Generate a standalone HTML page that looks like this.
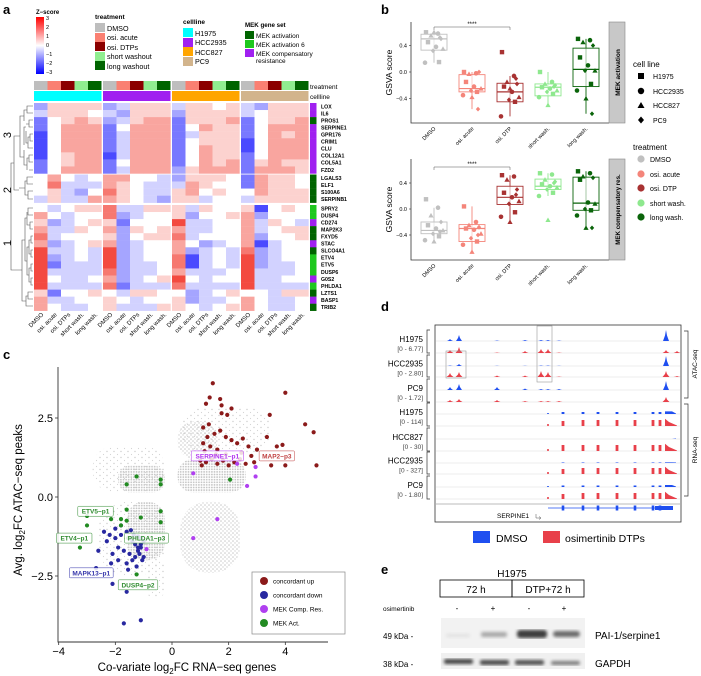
<!DOCTYPE html>
<html><head><meta charset="utf-8">
<style>
html,body{margin:0;padding:0;background:#fff;}
svg{display:block;font-family:"Liberation Sans",sans-serif;}
</style></head>
<body>
<svg id="s" width="701" height="676" viewBox="0 0 701 676" xmlns="http://www.w3.org/2000/svg">
<rect width="701" height="676" fill="#fff"/>
<defs>
<pattern id="dense" width="2.6" height="2.6" patternUnits="userSpaceOnUse"><circle cx="1.3" cy="1.3" r="0.9" fill="#c4c4c4"/></pattern>
<pattern id="mid" width="4" height="4" patternUnits="userSpaceOnUse"><circle cx="1" cy="1" r="0.8" fill="#c8c8c8"/><circle cx="3" cy="3" r="0.7" fill="#cfcfcf"/></pattern>
<pattern id="sparse" width="7" height="6" patternUnits="userSpaceOnUse"><circle cx="2" cy="1.5" r="0.7" fill="#cccccc"/><circle cx="5.5" cy="4.5" r="0.6" fill="#d4d4d4"/></pattern>
</defs>
<text x="3" y="14" font-size="13" font-weight="bold">a</text>
<text x="381" y="14" font-size="13" font-weight="bold">b</text>
<text x="3" y="359" font-size="13" font-weight="bold">c</text>
<text x="381" y="311" font-size="13" font-weight="bold">d</text>
<text x="381" y="574" font-size="13" font-weight="bold">e</text>

<g font-size="5.5">
<text x="36" y="14" font-weight="bold" font-size="6">Z−score</text>
<linearGradient id="zg" x1="0" y1="0" x2="0" y2="1">
<stop offset="0" stop-color="#ff0000"/><stop offset="0.5" stop-color="#ffffff"/><stop offset="1" stop-color="#0000ff"/></linearGradient>
<rect x="36" y="17" width="8" height="57" fill="url(#zg)"/>
<text x="46" y="20">3</text><text x="46" y="29">2</text><text x="46" y="38">1</text><text x="46" y="47">0</text><text x="46" y="56">−1</text><text x="46" y="65">−2</text><text x="46" y="74">−3</text>
</g>
<g font-size="7.2">
<text x="95" y="19" font-weight="bold" font-size="6.5">treatment</text>
<rect x="95" y="23" width="10" height="9" fill="#bebebe"/><text x="107" y="31">DMSO</text>
<rect x="95" y="33" width="10" height="9" fill="#fa8072"/><text x="107" y="40">osi. acute</text>
<rect x="95" y="42" width="10" height="9" fill="#8b0000"/><text x="107" y="50">osi. DTPs</text>
<rect x="95" y="52" width="10" height="9" fill="#90ee90"/><text x="107" y="59">short washout</text>
<rect x="95" y="61" width="10" height="9" fill="#006400"/><text x="107" y="69">long washout</text>
</g>
<g font-size="7.2">
<text x="183" y="24" font-weight="bold" font-size="6.5">cellline</text>
<rect x="183" y="28" width="10" height="9" fill="#00ffff"/><text x="195" y="36">H1975</text>
<rect x="183" y="38" width="10" height="9" fill="#a020f0"/><text x="195" y="45">HCC2935</text>
<rect x="183" y="47" width="10" height="9" fill="#ffa500"/><text x="195" y="55">HCC827</text>
<rect x="183" y="57" width="10" height="9" fill="#d2b48c"/><text x="195" y="64">PC9</text>
</g>
<g font-size="6.5">
<text x="245" y="27" font-weight="bold" font-size="6.2">MEK gene set</text>
<rect x="245" y="31" width="9" height="8" fill="#006400"/><text x="256" y="38">MEK activation</text>
<rect x="245" y="40" width="9" height="8" fill="#1ec81e"/><text x="256" y="47">MEK activation 6</text>
<rect x="245" y="49" width="9" height="8" fill="#a020f0"/><text x="256" y="56">MEK compensatory</text><text x="256" y="63">resistance</text>
</g>
<text x="310" y="89" font-size="6.5">treatment</text>
<text x="310" y="99" font-size="6.5">cellline</text>
<g id="heat"></g>
<g id="dendro" stroke="#555" stroke-width="0.6" fill="none">
<path d="M33,106 H27 V113 H33 M27,110 H24 V121 M33,120 H29 V127 H33 M29,124 H26 M33,134 H30 V141 H33 M30,137 H28 V148 H33 M28,143 H26 V131 M33,155 H29 V162 H33 M33,170 H29 M29,158 H27 V170 M26,127 H24 V145 M27,165 H24 V150 M24,116 H20 V157 H24"/>
<path d="M33,177 H27 V184 H33 M33,191 H28 V199 H33 M27,181 H25 V195 H28 M25,188 H19"/>
<path d="M33,208 H28 V215 H33 M33,222 H30 V229 H33 M30,225 H27 V212 M33,236 H31 V243 H33 M33,250 H31 V257 H33 M31,240 H29 V254 H31 M33,264 H31 V271 H33 M33,278 H31 V285 H33 M31,268 H29 V282 H31 M29,247 H27 V275 H29 M27,218 H25 V261 H27 M33,292 H28 V299 H33 M33,306 H28 M28,296 H26 V306 H28 M25,240 H22 V301 H26 M22,270 H16"/>
<path d="M20,136 H14 V190 H19 M14,163 H11 V270 H16"/>
</g>
<text transform="translate(11,135) rotate(-90)" font-size="11" text-anchor="middle">3</text>
<text transform="translate(11,190) rotate(-90)" font-size="11" text-anchor="middle">2</text>
<text transform="translate(11,243) rotate(-90)" font-size="11" text-anchor="middle">1</text>

<g id="boxb"></g>
<g font-size="7">
<text x="633" y="67" font-size="8">cell line</text>
<rect x="638" y="73" width="6" height="6" fill="#000"/><text x="653" y="79">H1975</text>
<circle cx="641" cy="91" r="3.2" fill="#000"/><text x="653" y="94">HCC2935</text>
<path d="M637.5,108 L641,102 L644.5,108Z" fill="#000"/><text x="653" y="108">HCC827</text>
<path d="M641,116.5 L644,120 L641,123.5 L638,120Z" fill="#000"/><text x="653" y="123">PC9</text>
</g>
<g font-size="7">
<text x="633" y="150" font-size="8">treatment</text>
<circle cx="641" cy="159" r="3.6" fill="#c0c0c0"/><text x="650" y="162">DMSO</text>
<circle cx="641" cy="174" r="3.6" fill="#f4857a"/><text x="650" y="177">osi. acute</text>
<circle cx="641" cy="188" r="3.6" fill="#a83232"/><text x="650" y="191">osi. DTP</text>
<circle cx="641" cy="203" r="3.6" fill="#8ee88e"/><text x="650" y="206">short wash.</text>
<circle cx="641" cy="217" r="3.6" fill="#0a640a"/><text x="650" y="220">long wash.</text>
</g>

<g id="scat"></g>
<g id="tracks"></g>

<g>
<text x="512" y="577" font-size="10" text-anchor="middle">H1975</text>
<rect x="440" y="580" width="72" height="17" fill="none" stroke="#000" stroke-width="0.8"/>
<rect x="512" y="580" width="72" height="17" fill="none" stroke="#000" stroke-width="0.8"/>
<text x="476" y="593" font-size="10" text-anchor="middle">72 h</text>
<text x="548" y="593" font-size="10" text-anchor="middle">DTP+72 h</text>
<text x="383" y="611" font-size="6.5">osimertinib</text>
<text x="457" y="611" font-size="8" text-anchor="middle">-</text>
<text x="493" y="611" font-size="8" text-anchor="middle">+</text>
<text x="529" y="611" font-size="8" text-anchor="middle">-</text>
<text x="564" y="611" font-size="8" text-anchor="middle">+</text>
<rect x="441" y="618" width="144" height="30" fill="#f2f2f2"/>
<filter id="bl"><feGaussianBlur stdDeviation="1.6"/></filter>
<g filter="url(#bl)">
<rect x="446" y="634" width="24" height="3" rx="1.5" fill="#e0e0e0"/>
<rect x="481" y="632" width="26" height="5" rx="2" fill="#a8a8a8"/>
<rect x="517" y="630" width="30" height="8" rx="3" fill="#3c3c3c"/>
<rect x="553" y="631" width="27" height="6" rx="3" fill="#6a6a6a"/>
</g>
<rect x="441" y="653" width="144" height="16" fill="#f0f0f0"/>
<g filter="url(#bl)">
<rect x="444" y="659" width="29" height="5" rx="2" fill="#444"/>
<rect x="480" y="660" width="29" height="5" rx="2" fill="#4a4a4a"/>
<rect x="515" y="660" width="29" height="5" rx="2" fill="#505050"/>
<rect x="551" y="661" width="29" height="4" rx="2" fill="#7a7a7a"/>
</g>
<text x="383" y="639" font-size="8">49 kDa -</text>
<text x="383" y="667" font-size="8">38 kDa -</text>
<text x="595" y="639" font-size="10">PAI-1/serpine1</text>
<text x="595" y="667" font-size="10">GAPDH</text>
</g>
</svg>

<script>
var NS='http://www.w3.org/2000/svg';
function mk(tag,attrs,parent){var e=document.createElementNS(NS,tag);for(var k in attrs)e.setAttribute(k,attrs[k]);parent.appendChild(e);return e;}

/* ---------------- Panel a heatmap data ---------------- */
var genes=['LOX','IL6','PROS1','SERPINE1','GPR176','CRIM1','CLU','COL12A1','COL5A1','FZD2','LGALS3','ELF1','S100A6','SERPINB1','SPRY2','DUSP4','CD274','MAP2K3','FXYD5','STAC','SLCO4A1','ETV4','ETV5','DUSP6','G0S2','PHLDA1','LZTS1','BASP1','TRIB2'];
var geneSet=['p','p','d','p','p','p','p','p','p','p','d','d','d','d','g','g','p','d','d','p','d','g','g','g','p','g','d','p','d'];
var geneCluster=[3,3,3,3,3,3,3,3,3,3,2,2,2,2,1,1,1,1,1,1,1,1,1,1,1,1,1,1,1];
var treatments=['DMSO','osi. acute','osi. DTPs','short wash.','long wash.'];
var cellLines=['H1975','HCC2935','HCC827','PC9'];
var zValues=[
[-1,0.5,0.5,0.5,0.5, -1,-0.5,0.5,0.5,0.5, -0.5,0.5,0.5,0,0.5, -0.5,-1,0.5,0.5,0.5],
[-0.5,0.5,0.5,0.5,0, -0.5,-1,0.5,0.5,0.5, -1,0.5,0.5,0.5,0.5, -0.5,0,0.5,0.5,0.5],
[-1.5,0,0.5,1,0.5, -1,-0.5,0.5,1,1, -1.5,0.5,0.5,0.5,1, -1.5,0,0.5,0.5,1],
[-1.5,0,1,1,1, -1.5,0,1,1,1, -1.5,0,1,0.5,0.5, -1.5,0,1,1,1],
[-2,0,1,1,1, -1.5,-0.5,1,1,1, -1.5,-0.5,0.5,0.5,0.5, -1.5,0,1,0.5,1],
[-2,0,1,1,1, -1.5,-0.5,1,1,1, -1.5,0,0.5,0.5,0.5, -2,0,1,1,1],
[-2,0,1,1,1, -1.5,-0.5,1,1,1, -1.5,0,1,0.5,0.5, -2,0,1,1,1],
[-2,0,0.5,1,1, -2,-0.5,1,1,1, -1.5,0,1,0.5,0.5, -1.5,0,1,1,1],
[-1.5,0,0.5,1,1, -1.5,0,1,1,1, -1.5,0,1,0.5,1, -1.5,0.5,1,0.5,0.5],
[-1.5,0,1,1,1, -1.5,-0.5,1,1,1, -1,0.5,1,1,1, -1.5,1,1,1,0.5],
[0,1,0,-0.5,0, 1,1,0,0,-0.5, -1,0.5,0.5,0.5,0, -1.5,1,0.5,0.5,0],
[0,1.5,-0.5,-0.5,-0.5, 1,0.5,0,-0.5,-0.5, -0.5,1,0.5,0,0, -1.5,1,0.5,0.5,0],
[0,0.5,-0.5,-1,0, 1.5,0.5,0,-0.5,-0.5, 0.5,1,0,0.5,0, 0,1,0.5,0.5,0.5],
[-0.5,0.5,-0.5,-0.5,1, 1,0.5,0,-0.5,-1, 0.5,0.5,-0.5,0,0, -0.5,0.5,0.5,0.5,0.5],
[0,-0.5,0,0.5,0.5, 1.5,-0.5,-0.5,0.5,0.5, 0.5,-0.5,0.5,0,0, 0.5,-2,0,0.5,0],
[1,0,-0.5,0,0, 1.5,-1,-0.5,0,0, 0.5,-1,0,0,0.5, 1,-1,0,0,0],
[0.5,-1,-0.5,0,0.5, 0.5,-1.5,0,0,0, 2,-0.5,-0.5,0,0, 1,-0.5,0.5,0,-0.5],
[1,-0.5,-0.5,0.5,0, 1,-1,0.5,0,0.5, 1,-0.5,-0.5,0,0, 1,-0.5,0,0.5,0.5],
[1.5,-0.5,0,0,0, 0.5,-1,0,0.5,0.5, 1.5,-0.5,0,0,0, 1,-1,0,0,0.5],
[1,-1,-0.5,0,0.5, 1,-1,-0.5,0,0, 1,0,-1,-0.5,0, 1,-2,-0.5,0,0],
[2,-0.5,-0.5,0,-0.5, 2,-1,-0.5,0,0, 1,-1,-0.5,0,-0.5, 1.5,-1,-0.5,0,0],
[2,-1,-0.5,0,-0.5, 2,-1,-0.5,0,0, 1.5,-2,-0.5,0,-0.5, 2,-1,-0.5,0,0],
[2,-1.5,-0.5,-0.5,-0.5, 2,-1,-0.5,-0.5,0, 1.5,-2,-0.5,0,-0.5, 2,-1,-0.5,-0.5,0],
[2,-0.5,-0.5,-0.5,-0.5, 1.5,-1,-0.5,-0.5,0, 1,-0.5,-0.5,-0.5,0, 2,-0.5,-0.5,-0.5,0],
[2,0,-0.5,-0.5,0, 1,-1,-0.5,0,0.5, 2,0,-0.5,0,0, 2,-0.5,-0.5,0,0],
[2,-0.5,-0.5,-0.5,-0.5, 1.5,-1.5,-0.5,-0.5,-0.5, 1.5,-0.5,-0.5,-0.5,-0.5, 2,-0.5,-0.5,-0.5,-0.5],
[0.5,-1.5,0,0,0.5, 0,-0.5,0.5,0.5,0, 0,-1,-0.5,0,0.5, 0,0,-0.5,0.5,0.5],
[1,-0.5,-0.5,0,0, 0.5,0,-0.5,0,0, 0.5,-1,-0.5,-0.5,0, 1,0,-0.5,-0.5,0],
[1,0,-0.5,-0.5,0, 0.5,-0.5,-0.5,-0.5,0.5, 0.5,0,-0.5,0,0.5, 1,0,-0.5,-0.5,0]
];

var tColors=['#bebebe','#fa8072','#8b0000','#90ee90','#006400'];
var cColors=['#00ffff','#a020f0','#ffa500','#d2b48c'];
var setColors={p:'#a020f0',d:'#006400',g:'#1ec81e'};
function zColor(v){
 if(v>=0){var t=Math.min(v/2.4,1);return 'rgb('+Math.round(255-t*15)+','+Math.round(255*(1-t*0.85))+','+Math.round(255*(1-t*0.9))+')';}
 var t2=Math.min(-v/2.4,1);return 'rgb('+Math.round(255*(1-t2*0.85))+','+Math.round(255*(1-t2*0.85))+',255)';}
(function(){
 var g=document.getElementById('heat');
 var blockX=function(b){return 34+b*69;};
 var bw=67.5,gw=bw/5;
 var clusterTop={3:103,2:174.5,1:205};
 var rowH=7.05;
 function rowY(i){var c=geneCluster[i];var first=geneCluster.indexOf(c);return clusterTop[c]+(i-first)*rowH;}
 for(var b=0;b<cellLines.length;b++){
  var cb=mk('rect',{x:blockX(b),y:91,width:bw,height:10,fill:cColors[b]},g);
  
  
  for(var t=0;t<treatments.length;t++){
   var tb=mk('rect',{x:blockX(b)+t*gw,y:81,width:gw,height:9,fill:tColors[t]},g);
   
   
   var cx=blockX(b)+t*gw+gw/2;
   var lb=mk('text',{transform:'translate('+(cx+3)+',315) rotate(-45)','font-size':6,'text-anchor':'end'},g);
   lb.textContent=treatments[t];
   
   
   for(var i=0;i<genes.length;i++){
    var v=zValues[i][b*5+t];
    var cell=mk('rect',{x:blockX(b)+t*gw,y:rowY(i),width:gw+0.2,height:rowH+0.2,fill:zColor(v)},g);
    
    
   }
  }
 }
 for(var i=0;i<genes.length;i++){
  var sc=mk('rect',{x:310,y:rowY(i),width:6.5,height:rowH+0.2,fill:setColors[geneSet[i]]},g);
  
  
  var gl=mk('text',{x:321,y:rowY(i)+5.3,'font-size':5.2,'font-weight':'bold'},g);
  gl.textContent=genes[i];
  
  
 }
})();

/* ---------------- Panel b box plots ---------------- */
var bCategories=['DMSO','osi. acute','osi. DTP','short wash.','long wash.'];
var bColors=['#c0c0c0','#f4857a','#a83232','#8ee88e','#0a640a'];
var actQ1=[0.33,-0.30,-0.45,-0.36,-0.22];
var actMed=[0.50,-0.25,-0.30,-0.23,0.04];
var actQ3=[0.57,-0.04,-0.17,-0.18,0.36];
var actLo=[0.14,-0.56,-0.67,-0.50,-0.63];
var actHi=[0.60,0.00,-0.06,0.00,0.50];
var actPoints=[
[0.60,0.58,0.55,0.50,0.45,0.38,0.35,0.32,0.15,0.14,0.60,0.52],
[0.00,-0.02,-0.03,0.00,-0.15,-0.22,-0.25,-0.28,-0.30,-0.35,-0.38,-0.56],
[0.30,-0.06,-0.15,-0.18,-0.22,-0.30,-0.38,-0.42,-0.45,-0.67,-0.25,-0.10],
[0.00,-0.15,-0.18,-0.20,-0.23,-0.25,-0.28,-0.30,-0.33,-0.38,-0.50,-0.22],
[0.50,0.48,0.45,0.40,0.22,0.10,0.02,0.02,-0.18,-0.28,-0.40,-0.63]];
var resQ1=[-0.38,-0.50,0.07,0.30,-0.02];
var resMed=[-0.33,-0.30,0.18,0.35,0.09];
var resQ3=[-0.20,-0.24,0.35,0.46,0.49];
var resLo=[-0.50,-0.66,-0.20,0.20,-0.29];
var resHi=[0.02,0.04,0.52,0.55,0.58];
var resPoints=[
[0.15,0.02,-0.10,-0.20,-0.25,-0.30,-0.33,-0.38,-0.42,-0.48,-0.50,-0.35],
[0.04,-0.20,-0.25,-0.28,-0.30,-0.32,-0.38,-0.45,-0.50,-0.55,-0.66,-0.40],
[0.52,0.50,0.45,0.30,0.25,0.18,0.12,0.08,-0.05,-0.12,-0.20,0.22],
[0.55,0.53,0.45,0.42,0.38,0.35,0.33,0.30,0.25,0.20,-0.17,0.40],
[0.58,0.55,0.50,0.48,0.45,0.10,0.08,0.00,-0.02,-0.10,-0.29,-0.29]];
var pointShapes=['sq','c','t','d','sq','c','t','d','sq','c','t','d'];
var jitter=[-8,4,-3,7,-6,2,9,-1,5,-9,0,6];
var bTicks=[-0.4,0.0,0.4];
var bTickLabels=['−0.4','0.0','0.4'];
(function(){
 var g=document.getElementById('boxb');
 var x0=411,x1=609;
 function bx(i){return 434+i*38;}
 function drawPanel(yTop,yBot,sy,q1,med,q3,lo,hi,pts,strip,ystar){
  var ax=mk('path',{d:'M'+x0+','+yTop+' V'+yBot+' H'+x1,stroke:'#333','stroke-width':0.8,fill:'none'},g);
  
  
  var st=mk('rect',{x:x1,y:yTop,width:16,height:yBot-yTop,fill:'#c8c8c8',stroke:'#888','stroke-width':0.6},g);
  
  
  var stt=mk('text',{transform:'translate('+(x1+11)+','+((yTop+yBot)/2)+') rotate(-90)','font-size':strip.length>16?6.2:6.5,'font-weight':'bold','text-anchor':'middle'},g);
  stt.textContent=strip;
  
  
  for(var k=0;k<bTicks.length;k++){
   var tl=mk('text',{x:x0-4,y:sy(bTicks[k])+2,'font-size':5.5,'text-anchor':'end'},g);
   tl.textContent=bTickLabels[k];
   
   
   var tk=mk('line',{x1:x0-2,x2:x0,y1:sy(bTicks[k]),y2:sy(bTicks[k]),stroke:'#333','stroke-width':0.6},g);
   
   
  }
  var yl=mk('text',{transform:'translate(392,'+((yTop+yBot)/2)+') rotate(-90)','font-size':8.5,'text-anchor':'middle'},g);
  yl.textContent='GSVA score';
  
  
  var br=mk('path',{d:'M'+bx(0)+','+(ystar+3)+' V'+ystar+' H'+bx(2)+' V'+(ystar+3),stroke:'#555','stroke-width':0.5,fill:'none'},g);
  
  
  var sg=mk('text',{x:(bx(0)+bx(2))/2,y:ystar-1,'font-size':6,'text-anchor':'middle'},g);
  sg.textContent='****';
  
  
  for(var i=0;i<bCategories.length;i++){
   var c=bColors[i],x=bx(i);
   var w=mk('line',{x1:x,x2:x,y1:sy(lo[i]),y2:sy(hi[i]),stroke:c,'stroke-width':0.9},g);
   
   
   var bxr=mk('rect',{x:x-13,y:sy(q3[i]),width:26,height:sy(q1[i])-sy(q3[i]),fill:'#fff','fill-opacity':0.6,stroke:c,'stroke-width':0.9},g);
   
   
   var md=mk('line',{x1:x-13,x2:x+13,y1:sy(med[i]),y2:sy(med[i]),stroke:c,'stroke-width':1.2},g);
   
   
   for(var j=0;j<pts[i].length;j++){
    var px=x+jitter[j],py=sy(pts[i][j]),s=pointShapes[j],p;
    if(s==='sq')p=mk('rect',{x:px-2.2,y:py-2.2,width:4.4,height:4.4,fill:c},g);
    else if(s==='c')p=mk('circle',{cx:px,cy:py,r:2.3,fill:c},g);
    else if(s==='t')p=mk('path',{d:'M'+(px-2.6)+','+(py+2)+' L'+px+','+(py-2.6)+' L'+(px+2.6)+','+(py+2)+'Z',fill:c},g);
    else p=mk('path',{d:'M'+px+','+(py-2.4)+' L'+(px+2.2)+','+py+' L'+px+','+(py+2.4)+' L'+(px-2.2)+','+py+'Z',fill:c},g);
    
    
   }
   var xl=mk('text',{transform:'translate('+(x+2)+','+(yBot+6)+') rotate(-45)','font-size':5.5,'text-anchor':'end'},g);
   xl.textContent=bCategories[i];
   
   
  }
 }
 drawPanel(22,123,function(v){return 72-v*66.25;},actQ1,actMed,actQ3,actLo,actHi,actPoints,'MEK activation',27);
 drawPanel(159,260,function(v){return 209-v*65;},resQ1,resMed,resQ3,resLo,resHi,resPoints,'MEK compensatory res.',167);
})();

/* ---------------- Panel c scatter ---------------- */
var xTicks=[-4,-2,0,2,4];
var yTicks=[-2.5,0.0,2.5];
var yTickLabels=['−2.5','0.0','2.5'];
var xTickLabels=['−4','−2','0','2','4'];
var upX=[1.44,4.0,1.33,1.7,1.2,1.75,2.1,1.75,1.95,3.45,1.1,1.3,1.5,1.7,1.9,2.1,2.3,2.5,2.7,1.0,1.2,1.4,1.6,1.8,2.0,2.2,2.4,2.6,2.8,1.15,1.35,1.55,1.05,1.25,2.9,3.9,5.0,5.1,4.7,4.0,3.5,3.35,3.0,3.7,2.45,1.6,1.9,1.1];
var upY=[3.6,3.3,3.15,3.1,2.95,2.9,2.8,2.65,2.6,2.6,2.2,2.3,2.0,2.1,1.9,1.8,1.7,1.85,1.6,1.15,1.1,1.2,1.05,1.15,1.0,1.1,1.2,1.05,1.3,1.45,1.6,1.35,1.0,1.9,1.1,1.65,2.05,1.0,2.3,1.0,1.0,1.9,1.5,1.6,1.4,1.5,1.35,1.7];
var downX=[-2.6,-2.68,-2.1,-1.6,-1.7,-1.1,-2.4,-2.2,-2.0,-1.8,-1.6,-1.5,-1.4,-1.3,-1.2,-1.1,-1.0,-1.9,-1.7,-1.5,-1.3,-1.2,-1.1,-2.3,-2.1,-1.9,-1.6,-1.4,-1.25,-1.15,-1.05,-2.0,-1.8,-1.45,-1.35,-1.2,-1.1,-1.0,-2.15,-1.55];
var downY=[-1.7,-2.25,-2.75,-3.0,-4.0,-3.9,-1.1,-1.2,-1.3,-1.2,-1.1,-1.3,-1.4,-1.5,-1.6,-1.5,-1.4,-1.6,-1.7,-1.8,-1.9,-1.7,-1.6,-1.4,-1.8,-2.0,-2.1,-2.0,-2.2,-1.8,-2.0,-1.0,-0.9,-1.05,-1.2,-1.25,-1.3,-1.9,-2.1,-2.3];
var compX=[0.75,2.95,2.95,2.65,1.6,0.75,-0.9,2.3];
var compY=[0.75,0.95,0.65,0.35,-0.7,-1.3,-1.65,1.05];
var actX=[-1.6,-1.25,-0.4,-0.4,2.05,-3.0,-3.0,-3.25,-2.15,-1.6,-1.6,-1.8,-1.8,-1.1,-0.4,-0.4,-1.25,-1.55];
var actY=[0.4,0.65,0.55,0.4,0.55,-0.6,-0.9,-1.6,-0.7,-0.4,-0.75,-0.7,-0.9,-0.65,-0.45,-0.8,-2.45,-1.3];
/* grey background peak clouds: [xmin,xmax,ymin,ymax,density] */
var cloudX0=[0.2,-1.9,-1.6,0.3,0.2,-2.8,-0.9,-2.6,0.3];
var cloudX1=[2.6,-0.25,-0.25,2.4,1.6,-0.25,-0.25,-0.25,3.5];
var cloudY0=[0.15,0.15,-2.0,-2.4,1.2,0.15,-3.2,-2.5,1.4];
var cloudY1=[1.2,1.0,-0.15,-0.15,2.4,1.6,-2.0,-0.15,2.8];
var cloudDensity=['dense','dense','dense','mid','mid','sparse','sparse','sparse','sparse'];
var callouts=[['ETV5−p1',-2.7,-0.45,'#2e8b2e'],['ETV4−p1',-3.45,-1.3,'#2e8b2e'],['PHLDA1−p3',-0.9,-1.3,'#2e8b2e'],['MAPK13−p1',-2.85,-2.4,'#3333aa'],['DUSP4−p2',-1.2,-2.78,'#2e8b2e'],['SERPINE1−p1',1.6,1.3,'#b030f0'],['MAP2−p3',3.7,1.3,'#c04040']];
(function(){
 var g=document.getElementById('scat');
 function sx(v){return 172+v*28.33;}
 function sy(v){return 497-v*31.6;}
 for(var i=0;i<cloudX0.length;i++){
  var x=sx(cloudX0[i]),y=sy(cloudY1[i]),w=sx(cloudX1[i])-x,h=sy(cloudY0[i])-y;
  var e=mk('rect',{x:x,y:y,width:w,height:h,rx:Math.min(w,h)*0.45,fill:'url(#'+cloudDensity[i]+')'},g);
  
  
 }
 var ax=mk('path',{d:'M58,367 V642 H328',stroke:'#333','stroke-width':0.9,fill:'none'},g);
 
 
 for(var k=0;k<xTicks.length;k++){
  var t=mk('line',{x1:sx(xTicks[k]),x2:sx(xTicks[k]),y1:642,y2:645,stroke:'#333','stroke-width':0.8},g);
  
  
  var tl=mk('text',{x:sx(xTicks[k]),y:655,'font-size':11,'text-anchor':'middle'},g);
  tl.textContent=xTickLabels[k];
  
  
 }
 for(var k=0;k<yTicks.length;k++){
  var t2=mk('line',{x1:55,x2:58,y1:sy(yTicks[k]),y2:sy(yTicks[k]),stroke:'#333','stroke-width':0.8},g);
  
  
  var tl2=mk('text',{x:53,y:sy(yTicks[k])+4,'font-size':11,'text-anchor':'end'},g);
  tl2.textContent=yTickLabels[k];
  
  
 }
 function pts(X,Y,col,name){for(var i=0;i<X.length;i++){var c=mk('circle',{cx:sx(X[i]),cy:sy(Y[i]),r:2.1,fill:col},g);
  
  }}
 pts(upX,upY,'#8b1a1a','concordant-up-point');
 pts(downX,downY,'#2828a0','concordant-down-point');
 pts(compX,compY,'#b040f0','mek-comp-res-point');
 pts(actX,actY,'#228b22','mek-act-point');
 for(var i=0;i<callouts.length;i++){
  var c=callouts[i],w=c[0].length*4.2+6;
  var r=mk('rect',{x:sx(c[1])-w/2,y:sy(c[2])-5,width:w,height:10,fill:'#fff','fill-opacity':0.85,stroke:c[3],'stroke-width':0.5,rx:1},g);
  
  
  var tx=mk('text',{x:sx(c[1]),y:sy(c[2])+2.5,'font-size':6.5,'font-weight':'bold','text-anchor':'middle',fill:c[3]},g);
  tx.textContent=c[0];
  
  
 }
 var xt=mk('text',{x:187,y:671,'font-size':11.5,'text-anchor':'middle'},g);
 
 
 var a1=mk('tspan',{},xt);a1.textContent='Co-variate log';
 var a2=mk('tspan',{'font-size':8,dy:3},xt);a2.textContent='2';
 var a3=mk('tspan',{dy:-3},xt);a3.textContent='FC RNA−seq genes';
 var yt=mk('text',{transform:'translate(22,500) rotate(-90)','font-size':11.5,'text-anchor':'middle'},g);
 
 
 var b1=mk('tspan',{},yt);b1.textContent='Avg. log';
 var b2=mk('tspan',{'font-size':8,dy:3},yt);b2.textContent='2';
 var b3=mk('tspan',{dy:-3},yt);b3.textContent='FC ATAC−seq peaks';
 var lg=mk('g',{},g);
 
 
 mk('rect',{x:252,y:572,width:93,height:62,fill:'#fff',stroke:'#888','stroke-width':0.7},lg);
 var lt=['concordant up','concordant down','MEK Comp. Res.','MEK Act.'],lc=['#8b1a1a','#2828a0','#b040f0','#228b22'];
 for(var i=0;i<4;i++){mk('circle',{cx:264,cy:581+i*14,r:4,fill:lc[i]},lg);
  var tt=mk('text',{x:273,y:583.5+i*14,'font-size':6.5},lg);tt.textContent=lt[i];}
})();

/* ---------------- Panel d tracks ---------------- */
var trackLabels=['H1975','HCC2935','PC9','H1975','HCC827','HCC2935','PC9'];
var trackRanges=['[0 - 6.77]','[0 - 2.80]','[0 - 1.72]','[0 - 114]','[0 - 30]','[0 - 327]','[0 - 1.80]'];
var atacPeakX=[450,459,497,525,541,548,559,666,677];
var atacBlueH=[[2,6,0.5,1,1,1,0.5,11,0],[0.5,2,0.3,0.3,0.5,0.5,0.3,10,0],[3,6,3,1.5,1,1,1,9,0]];
var atacRedH=[[3,6,0.5,2,4,4,0.5,3,2],[4,5,1.5,1.5,6,5,0.5,6,1],[2,3,2,1,1,1,1,5,0]];
var exonX=[548,563,583,598,617,635,653,660];
var rnaBlueH=[[1,2,2,2,2,2,2,2],[0,0,0,0,0,0,0,0],[0,0.5,0.5,0.5,0.5,0.5,0.5,0.5],[1,1.5,1.5,1.5,1.5,1.5,1.5,1.5]];
var rnaRedH=[[2,5,6,6,6,6,6,6],[2,6,6,6,6,6,6,6],[2,5,6,6,6,6,6,6],[2,5,6,6,6,6,6,6]];
(function(){
 var g=document.getElementById('tracks');
 var bx=mk('rect',{x:435,y:325,width:246,height:197,fill:'none',stroke:'#333','stroke-width':0.8},g);
 
 
 var base=[[339,351],[364,375],[388,400],[412,424],[437,449],[461,472],[485,497]];
 function peak(x,y,h,w,c){return mk('path',{d:'M'+(x-w)+','+y+' L'+(x-1)+','+(y-h*0.5)+' L'+x+','+(y-h)+' L'+(x+1)+','+(y-h*0.5)+' L'+(x+w)+','+y+'Z',fill:c},g);}
 for(var t=0;t<7;t++){
  var lyb=base[t][0]+2,lyr=base[t][1]+2;
  var l1=mk('line',{x1:436,x2:680,y1:lyb,y2:lyb,stroke:'#ddd','stroke-width':0.6},g);
  
  
  var l2=mk('line',{x1:436,x2:680,y1:lyr,y2:lyr,stroke:'#ddd','stroke-width':0.6},g);
  
  
  var cy=(base[t][0]+base[t][1])/2-2;
  var tl=mk('text',{x:423,y:cy-1,'font-size':8,'text-anchor':'end'},g);
  tl.textContent=trackLabels[t];
  
  
  var tr=mk('text',{x:423,y:cy+8,'font-size':6.5,'text-anchor':'end',fill:'#444'},g);
  tr.textContent=trackRanges[t];
  
  
  var bk=mk('path',{d:'M430,'+(base[t][0]-9)+' H427 V'+(base[t][1]+2)+' H430',stroke:'#333','stroke-width':0.7,fill:'none'},g);
  
  
  if(t<3){
   for(var i=0;i<atacPeakX.length;i++){
    var pb=peak(atacPeakX[i],lyb,atacBlueH[t][i],3,'#1f4ff0');
    
    
    var pr=peak(atacPeakX[i],lyr,atacRedH[t][i],3.5,'#e8404a');
    
    
   }
  } else {
   var r=t-3;
   for(var i=0;i<exonX.length;i++){
    var w=i==0?0.8:1.4;
    var eb=mk('rect',{x:exonX[i]-w,y:lyb-rnaBlueH[r][i],width:2*w,height:rnaBlueH[r][i],fill:'#1f4ff0'},g);
    
    
    var er=mk('rect',{x:exonX[i]-w,y:lyr-rnaRedH[r][i],width:2*w,height:rnaRedH[r][i],fill:'#e8404a'},g);
    
    
   }
   var tb=mk('path',{d:'M665,'+lyb+' V'+(lyb-rnaBlueH[r][7]*1.3)+' H672 L676,'+(lyb-0.5)+' V'+lyb+'Z',fill:'#1f4ff0'},g);
   
   
   var tr2=mk('path',{d:'M665,'+lyr+' V'+(lyr-rnaRedH[r][7]*1.2)+' L669,'+(lyr-4)+' L677,'+(lyr-0.5)+' V'+lyr+'Z',fill:'#e8404a'},g);
   
   
  }
 }
 var hb1=mk('rect',{x:446,y:351,width:20,height:27,fill:'none',stroke:'#999','stroke-width':0.6},g);
 
 
 var hb2=mk('rect',{x:537,y:326,width:15,height:56,fill:'none',stroke:'#999','stroke-width':0.6},g);
 
 
 var rb1=mk('path',{d:'M684,331 H688 V398 H684',stroke:'#333','stroke-width':0.7,fill:'none'},g);
 
 
 var rb2=mk('path',{d:'M684,404 H688 V496 H684',stroke:'#333','stroke-width':0.7,fill:'none'},g);
 
 
 var at=mk('text',{transform:'translate(697,364) rotate(-90)','font-size':6.5,'text-anchor':'middle'},g);
 at.textContent='ATAC-seq';
 
 
 var rt=mk('text',{transform:'translate(697,450) rotate(-90)','font-size':6.5,'text-anchor':'middle'},g);
 rt.textContent='RNA-seq';
 
 
 var sep=mk('rect',{x:436,y:503,width:244,height:2,fill:'#ddd'},g);
 
 
 var gl=mk('line',{x1:548,x2:673,y1:508,y2:508,stroke:'#1f4ff0','stroke-width':0.8},g);
 
 
 for(var i=1;i<exonX.length;i++){
  var ex=mk('rect',{x:exonX[i]-1.3,y:505.5,width:2.6,height:5,fill:'#1f4ff0'},g);
  
  
 }
 var ut=mk('rect',{x:655,y:506,width:18,height:4,fill:'#1f4ff0'},g);
 
 
 var gn=mk('text',{x:497,y:518,'font-size':6.5},g);
 gn.textContent='SERPINE1';
 
 
 var ar=mk('path',{d:'M536,514 V518 H541 M539,516.5 L541,518 L539,519.5',stroke:'#555','stroke-width':0.5,fill:'none'},g);
 
 
 var q1=mk('rect',{x:473,y:531,width:17,height:12,fill:'#1f4ff0'},g);
 
 
 var q1t=mk('text',{x:496,y:542,'font-size':10.5},g);
 q1t.textContent='DMSO';
 
 
 var q2=mk('rect',{x:543,y:531,width:17,height:12,fill:'#e8404a'},g);
 
 
 var q2t=mk('text',{x:565,y:542,'font-size':10.5},g);
 q2t.textContent='osimertinib DTPs';
 
 
})();
</script>
</body></html>
